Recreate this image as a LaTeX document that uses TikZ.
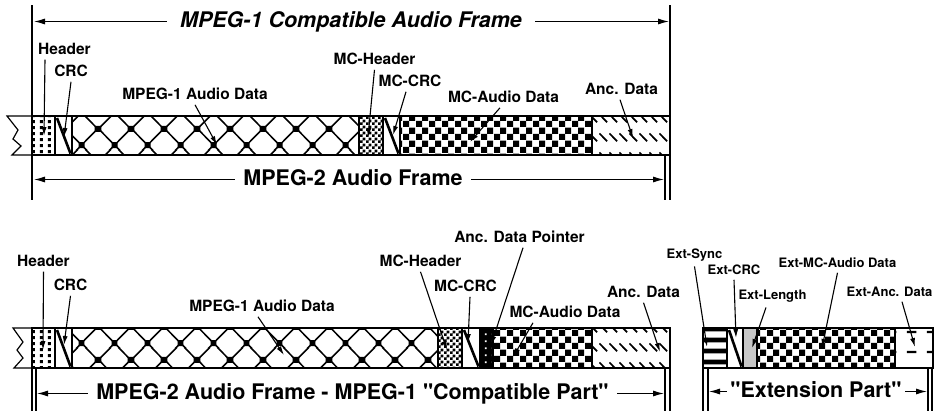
\documentclass[tikz,border=0pt]{standalone}
\usepackage{fontspec}
\setmainfont{TeX Gyre Heros}
\usetikzlibrary{arrows.meta,patterns}

% fill patterns of the frame fields
\pgfdeclarepatternformonly{hdrdots}{\pgfqpoint{0pt}{0pt}}{\pgfqpoint{7.5pt}{5.5pt}}{\pgfqpoint{7.5pt}{5.5pt}}{%
  \pgfpathrectangle{\pgfqpoint{2pt}{1pt}}{\pgfqpoint{3pt}{3.2pt}}\pgfusepath{fill}}
\pgfdeclarepatternformonly{diamonds}{\pgfqpoint{0pt}{0pt}}{\pgfqpoint{33pt}{33pt}}{\pgfqpoint{33pt}{33pt}}{%
  \pgfsetlinewidth{1.6pt}%
  \pgfpathmoveto{\pgfqpoint{9pt}{-2pt}}\pgfpathlineto{\pgfqpoint{35pt}{24pt}}%
  \pgfpathmoveto{\pgfqpoint{-2pt}{20pt}}\pgfpathlineto{\pgfqpoint{13pt}{35pt}}%
  \pgfpathmoveto{\pgfqpoint{-2pt}{23pt}}\pgfpathlineto{\pgfqpoint{23pt}{-2pt}}%
  \pgfpathmoveto{\pgfqpoint{19pt}{35pt}}\pgfpathlineto{\pgfqpoint{35pt}{19pt}}%
  \pgfusepath{stroke}%
  \pgfpathrectangle{\pgfqpoint{13pt}{2pt}}{\pgfqpoint{6pt}{6pt}}%
  \pgfpathrectangle{\pgfqpoint{29.5pt}{18.5pt}}{\pgfqpoint{6pt}{6pt}}%
  \pgfpathrectangle{\pgfqpoint{-3.5pt}{18.5pt}}{\pgfqpoint{6pt}{6pt}}%
  \pgfusepath{fill}}
\pgfdeclarepatternformonly{finechk}{\pgfqpoint{0pt}{0pt}}{\pgfqpoint{6pt}{6pt}}{\pgfqpoint{6pt}{6pt}}{%
  \pgfpathrectangle{\pgfqpoint{0pt}{0pt}}{\pgfqpoint{3pt}{3pt}}%
  \pgfpathrectangle{\pgfqpoint{3pt}{3pt}}{\pgfqpoint{3pt}{3pt}}\pgfusepath{fill}}
\pgfdeclarepatternformonly{bigchk}{\pgfqpoint{0pt}{0pt}}{\pgfqpoint{13pt}{13pt}}{\pgfqpoint{13pt}{13pt}}{%
  \pgfpathrectangle{\pgfqpoint{0pt}{0pt}}{\pgfqpoint{6.5pt}{6.5pt}}%
  \pgfpathrectangle{\pgfqpoint{6.5pt}{6.5pt}}{\pgfqpoint{6.5pt}{6.5pt}}\pgfusepath{fill}}
\pgfdeclarepatternformonly{ancdash}{\pgfqpoint{0pt}{0pt}}{\pgfqpoint{9.5pt}{19pt}}{\pgfqpoint{9.5pt}{19pt}}{%
  \pgfsetlinewidth{1.8pt}%
  \pgfpathmoveto{\pgfqpoint{0.5pt}{14pt}}\pgfpathlineto{\pgfqpoint{8.5pt}{6pt}}\pgfusepath{stroke}}
\pgfdeclarepatternformonly{ptrdots}{\pgfqpoint{0pt}{0pt}}{\pgfqpoint{7pt}{7pt}}{\pgfqpoint{7pt}{7pt}}{%
  \pgfpathrectangle{\pgfqpoint{2pt}{2pt}}{\pgfqpoint{2pt}{2pt}}\pgfusepath{fill}}
\pgfdeclarepatternformonly{syncbars}{\pgfqpoint{0pt}{0pt}}{\pgfqpoint{20pt}{11pt}}{\pgfqpoint{20pt}{11pt}}{%
  \pgfpathrectangle{\pgfqpoint{-1pt}{6pt}}{\pgfqpoint{22pt}{5pt}}\pgfusepath{fill}}
\pgfdeclarepatternformonly{extdash}{\pgfqpoint{0pt}{0pt}}{\pgfqpoint{20pt}{20pt}}{\pgfqpoint{20pt}{20pt}}{%
  \pgfpathrectangle{\pgfqpoint{7pt}{0.8pt}}{\pgfqpoint{10pt}{2.4pt}}\pgfusepath{fill}}

\begin{document}
\begin{tikzpicture}[x=1pt, y=-1pt, line width=1.2pt, >={Latex[length=9pt,width=5pt]}]
\tikzset{
  seg/.style={draw, inner sep=0pt, outer sep=0pt, anchor=north west, minimum height=39pt},
  lbl/.style={anchor=base, inner xsep=1pt, inner ysep=5pt, font=\bfseries\fontsize{15.5}{17}\selectfont},
  extlbl/.style={lbl, font=\bfseries\fontsize{13}{15}\selectfont},
  ttl/.style={anchor=base, inner xsep=8pt, inner ysep=0pt, text height=15.5pt, text depth=4.5pt, font=\bfseries\fontsize{21.5}{24}\selectfont},
  pointer/.style={->, line width=1.1pt},
  dimarr/.style={->, line width=1.1pt, >={Latex[length=11pt,width=6pt]}},
  crcstroke/.style={line width=2.6pt}
}
\useasboundingbox (0,0) rectangle (934,413);

% MPEG-1 compatible frame
\node[seg, minimum width=23pt, pattern=hdrdots] (hd1) at (32,116) {};
\node[seg, minimum width=17pt] (crc1) at (hd1.north east) {};
\node[seg, minimum width=287pt, pattern=diamonds] (am1) at (crc1.north east) {};
\node[seg, minimum width=24pt, pattern=finechk] (mch1) at (am1.north east) {};
\node[seg, minimum width=17pt] (mcc1) at (mch1.north east) {};
\node[seg, minimum width=192pt, pattern=bigchk] (mca1) at (mcc1.north east) {};
\node[seg, minimum width=78pt, pattern=ancdash] (anc1) at (mca1.north east) {};
\draw[crcstroke] ([shift={(2,2)}]crc1.north west) -- ([shift={(-1.5,-1.5)}]crc1.south east);
\draw[crcstroke] ([shift={(2,2)}]mcc1.north west) -- ([shift={(-1.5,-1.5)}]mcc1.south east);
\draw (hd1.north west) -- (7,116) -- (18,130) -- (13,139) -- (21,146) -- (12,155) -- (hd1.south west);

\draw (32,5) -- (32,200);
\draw (670,5) -- (670,200);
\draw (665,155) -- (665,200);

\coordinate (tl) at (34,0);
\coordinate (tr) at (669,0);
\coordinate (br) at (664,0);
\coordinate (bl) at (37,0);
\coordinate (el) at (709,0);
\coordinate (er) at (927,0);

\node[ttl, inner xsep=13pt, font=\bfseries\itshape\fontsize{21.5}{24}\selectfont] (cmp) at (351,27) {MPEG-1 Compatible Audio Frame};
\draw[dimarr] (cmp.west) -- (cmp.west -| tl);
\draw[dimarr] (cmp.east) -- (cmp.east -| tr);
\node[ttl] (fr2) at (353,185) {MPEG-2 Audio Frame};
\draw[dimarr] (fr2.west) -- (fr2.west -| tl);
\draw[dimarr] (fr2.east) -- (fr2.east -| br);

\node[lbl] (lhd1) at (64.5,54) {Header};
\node[lbl] (lcrc1) at (71,76) {CRC};
\node[lbl] (lam1) at (195,99) {MPEG-1 Audio Data};
\node[lbl] (lmch1) at (374.5,64) {MC-Header};
\node[lbl] (lmcc1) at (410,86) {MC-CRC};
\node[lbl] (lmca1) at (503.5,102) {MC-Audio Data};
\node[lbl] (lanc1) at (621.5,94) {Anc. Data};

\coordinate (thd1) at (44,136);
\coordinate (tcrc1) at (64,137);
\coordinate (tam1) at (217,145);
\coordinate (tmch1) at (368,137);
\coordinate (tmcc1) at (393,135);
\coordinate (tmca1) at (470,142);
\coordinate (tanc1) at (633,138);
\draw[pointer] ([xshift=-19.5pt]lhd1.south) -- (thd1);
\draw[pointer] (lcrc1.south) -- (tcrc1);
\draw[pointer] (lam1.south) -- (tam1);
\draw[pointer] (lmch1.south) -- (tmch1);
\draw[pointer] ([xshift=-4pt]lmcc1.south) -- (tmcc1);
\draw[pointer] ([xshift=-3.5pt]lmca1.south) -- (tmca1);
\draw[pointer] ([xshift=-1.5pt]lanc1.south) -- (tanc1);

% MPEG-2 frame with extension
\node[seg, minimum height=40pt, minimum width=23pt, pattern=hdrdots] (hd2) at (32,328) {};
\node[seg, minimum height=40pt, minimum width=17pt] (crc2) at (hd2.north east) {};
\node[seg, minimum height=40pt, minimum width=366pt, pattern=diamonds] (am2) at (crc2.north east) {};
\node[seg, minimum height=40pt, minimum width=24pt, pattern=finechk] (mch2) at (am2.north east) {};
\node[seg, minimum height=40pt, minimum width=18pt] (mcc2) at (mch2.north east) {};
\node[seg, minimum height=40pt, minimum width=13pt, preaction={fill=black}, pattern=ptrdots, pattern color=white] (adp) at (mcc2.north east) {};
\node[seg, minimum height=40pt, minimum width=99pt, pattern=bigchk] (mca2) at (adp.north east) {};
\node[seg, minimum height=40pt, minimum width=78pt, pattern=ancdash] (anc2) at (mca2.north east) {};
\draw[crcstroke] ([shift={(2,2)}]crc2.north west) -- ([shift={(-1.5,-1.5)}]crc2.south east);
\draw[crcstroke] ([shift={(2,2)}]mcc2.north west) -- ([shift={(-1.5,-1.5)}]mcc2.south east);
\draw (hd2.north west) -- (13,328) -- (23,342) -- (17,350) -- (23,358) -- (14,368) -- (hd2.south west);

\node[seg, minimum height=40pt, minimum width=24pt, pattern=syncbars] (esy) at (703,328) {};
\node[seg, minimum height=40pt, minimum width=16pt] (ecrc) at (esy.north east) {};
\node[seg, minimum height=40pt, minimum width=14pt, fill=black!22] (elen) at (ecrc.north east) {};
\node[seg, minimum height=40pt, minimum width=138pt, pattern=bigchk] (emca) at (elen.north east) {};
\node[seg, minimum height=40pt, minimum width=38pt, pattern=extdash] (eanc) at (emca.north east) {};
\draw[crcstroke] ([shift={(2,2)}]ecrc.north west) -- ([shift={(-1.5,-1.5)}]ecrc.south east);

\draw (32,368) -- (32,411);
\draw (36,368) -- (36,411);
\draw (665,368) -- (665,411);
\draw (670,368) -- (670,411);
\draw (703,368) -- (703,411);
\draw (708,368) -- (708,411);
\draw (928,368) -- (928,411);
\draw (932,368) -- (932,411);

\node[ttl] (prt) at (352.5,399) {MPEG-2 Audio Frame - MPEG-1 \textquotedbl Compatible Part\textquotedbl};
\draw[dimarr] (prt.west) -- (prt.west -| bl);
\draw[dimarr] (prt.east) -- (prt.east -| br);
\node[ttl, inner xsep=3pt] (ext) at (816,397) {\textquotedbl Extension Part\textquotedbl};
\draw[dimarr] (ext.west) -- (ext.west -| el);
\draw[dimarr] (ext.east) -- (ext.east -| er);

\node[lbl] (lhd2) at (43.5,266) {Header};
\node[lbl] (lcrc2) at (70.5,290) {CRC};
\node[lbl] (lam2) at (262,311) {MPEG-1 Audio Data};
\node[lbl] (lmch2) at (420.5,266) {MC-Header};
\node[lbl] (ladp) at (519.5,242) {Anc. Data Pointer};
\node[lbl] (lmcc2) at (465.5,291) {MC-CRC};
\node[lbl] (lmca2) at (565,317) {MC-Audio Data};
\node[lbl] (lanc2) at (643.5,297) {Anc. Data};

\coordinate (thd2) at (43,350);
\coordinate (tcrc2) at (64,345);
\coordinate (tam2) at (284,355);
\coordinate (tmch2) at (447,350);
\coordinate (tmcc2) at (468,343);
\coordinate (tadp) at (491,345);
\coordinate (tmca2) at (513,357);
\coordinate (tanc2) at (660,352);
\draw[pointer] (lhd2.south) -- (thd2);
\draw[pointer] (lcrc2.south) -- (tcrc2);
\draw[pointer] ([xshift=-4pt]lam2.south) -- (tam2);
\draw[pointer] (lmch2.south) -- (tmch2);
\draw[pointer] ([xshift=4.5pt]lmcc2.south) -- (tmcc2);
\draw[pointer] ([xshift=3.5pt]ladp.south) -- (tadp);
\draw[pointer] ([xshift=-32pt]lmca2.south) -- (tmca2);
\draw[pointer] (lanc2.south) -- (tanc2);

\node[extlbl] (lesy) at (694.5,258) {Ext-Sync};
\node[extlbl] (lecrc) at (734,274) {Ext-CRC};
\node[extlbl] (lelen) at (772.5,299) {Ext-Length};
\node[extlbl] (lemca) at (837.5,267) {Ext-MC-Audio Data};
\node[extlbl] (leanc) at (889.5,296) {Ext-Anc. Data};

\coordinate (tesy) at (707,347);
\coordinate (tecrc) at (736,338);
\coordinate (telen) at (752,348);
\coordinate (temca) at (822,348);
\coordinate (teanc) at (915,347);
\draw[pointer] (lesy.south) -- (tesy);
\draw[pointer] (lecrc.south) -- (tecrc);
\draw[pointer] ([xshift=-6.5pt]lelen.south) -- (telen);
\draw[pointer] (lemca.south) -- (temca);
\draw[pointer] ([xshift=12.5pt]leanc.south) -- (teanc);
\end{tikzpicture}
\end{document}
